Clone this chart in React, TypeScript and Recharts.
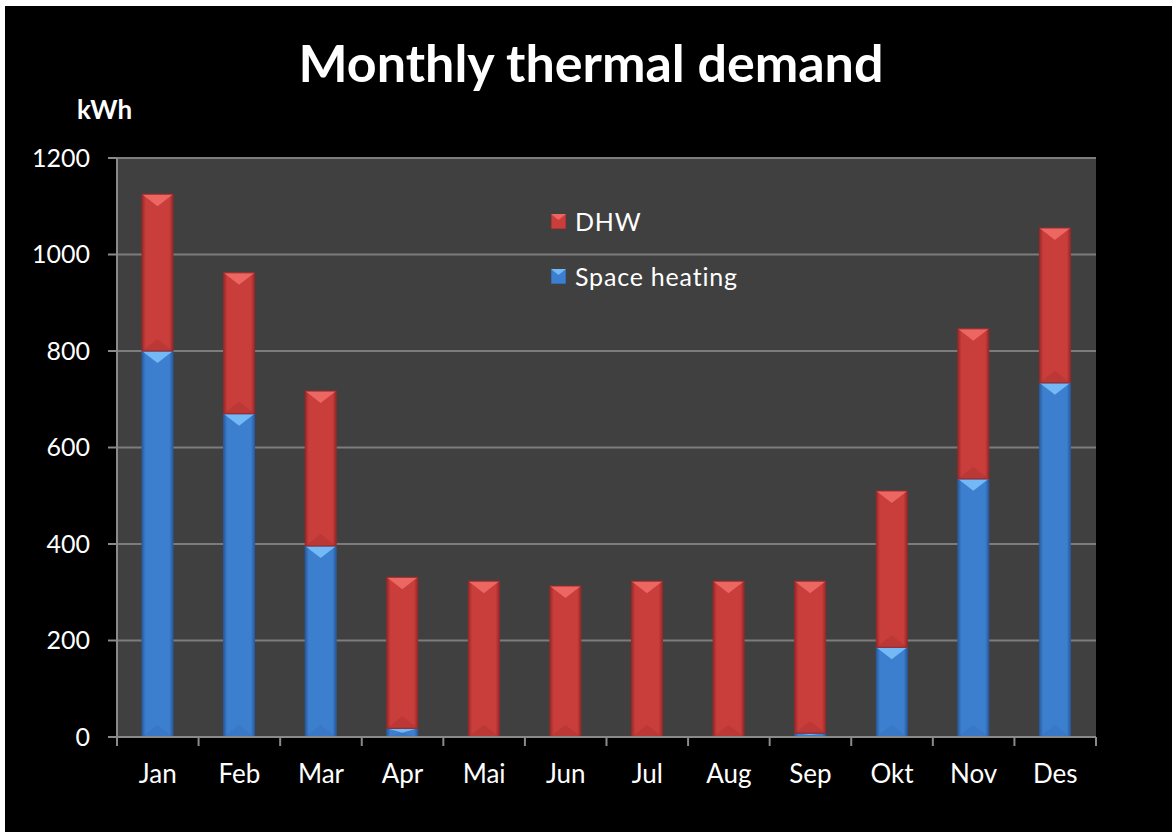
import React from "react";
import { BarChart, Bar, XAxis, YAxis, CartesianGrid } from "recharts";

// values (kWh)
const months = ["Jan", "Feb", "Mar", "Apr", "Mai", "Jun", "Jul", "Aug", "Sep", "Okt", "Nov", "Des"];
const spaceHeating = [800, 670, 396, 18, 0, 0, 0, 0, 8, 186, 535, 734];
const dhw = [325, 292, 321, 313, 323, 313, 323, 323, 315, 324, 311, 321];
const yTicks = [0, 200, 400, 600, 800, 1000, 1200];

const chartData = months.map((month, i) => ({
  month,
  spaceHeating: spaceHeating[i],
  dhw: dhw[i],
}));

const FONT = "Lato, 'Open Sans', sans-serif";
const AXIS = "#8a8a8a";

const palette: Record<string, { body: string; edge: string; light: string; dark: string }> = {
  red: { body: "#c93d3b", edge: "#98292a", light: "#ec6662", dark: "#a83130" },
  blue: { body: "#3c7fcf", edge: "#2a5c9e", light: "#74b9f6", dark: "#336fb8" },
};

function BevelBar(props: any) {
  const { x, y, width, height, tone } = props;
  if (!height || height <= 0) return null;
  const c = palette[tone];
  const bevel = Math.min(12, height / 2);
  return (
    <g>
      <rect x={x} y={y} width={width} height={height} fill={`url(#grad-${tone})`} />
      <polygon
        points={`${x},${y} ${x + width},${y} ${x + width / 2},${y + bevel}`}
        fill={c.light}
      />
      <polygon
        points={`${x},${y + height} ${x + width},${y + height} ${x + width / 2},${y + height - bevel}`}
        fill={c.dark}
        opacity={0.4}
      />
      <rect x={x} y={y} width={width} height={height} fill="none" stroke={c.edge} strokeWidth={1} />
    </g>
  );
}

function XTick(props: any) {
  const { x, y, payload, index } = props;
  const half = payload.offset || 0;
  const lineTop = y - 26;
  const last = index === months.length - 1;
  return (
    <g>
      <line x1={x - half} y1={lineTop} x2={x - half} y2={lineTop + 9} stroke={AXIS} strokeWidth={2} />
      {last && (
        <line x1={x + half} y1={lineTop} x2={x + half} y2={lineTop + 9} stroke={AXIS} strokeWidth={2} />
      )}
      <text x={x} y={y} dy="0.75em" textAnchor="middle" fill="#ffffff" fontSize={26} fontFamily={FONT}>
        {payload.value}
      </text>
    </g>
  );
}

function LegendBox() {
  const items = [
    { label: "DHW", tone: "red" },
    { label: "Space heating", tone: "blue" },
  ];
  return (
    <div style={{ position: "absolute", left: 546, top: 201, fontFamily: FONT }}>
      {items.map((it) => {
        const c = palette[it.tone];
        return (
          <div
            key={it.label}
            style={{ display: "flex", alignItems: "center", height: 28, marginBottom: 27 }}
          >
            <svg width={15} height={15} style={{ marginRight: 9 }}>
              <rect x={0} y={0} width={15} height={15} fill={c.body} stroke={c.edge} />
              <polygon points="0,0 15,0 7.5,6" fill={c.light} />
            </svg>
            <span style={{ color: "#ffffff", fontSize: 25, letterSpacing: 0.8 }}>{it.label}</span>
          </div>
        );
      })}
    </div>
  );
}

export default function App() {
  return (
    <div style={{ position: "absolute", left: 0, top: 0, width: 1172, height: 832, background: "#ffffff" }}>
      <div style={{ position: "absolute", left: 5, top: 6, width: 1167, height: 826, background: "#000000" }}>
        <div
          style={{
            position: "absolute",
            left: 0,
            width: 1172,
            top: 30,
            textAlign: "center",
            color: "#ffffff",
            fontFamily: FONT,
            fontWeight: 700,
            fontSize: 52,
            lineHeight: 1,
          }}
        >
          Monthly thermal demand
        </div>
        <div
          style={{
            position: "absolute",
            left: 72,
            top: 90,
            color: "#ffffff",
            fontFamily: FONT,
            fontWeight: 700,
            fontSize: 26,
            lineHeight: 1,
          }}
        >
          kWh
        </div>
        <BarChart
          width={1167}
          height={826}
          data={chartData}
          margin={{ top: 152, right: 76, left: 0, bottom: 0 }}
        >
          <defs>
            {Object.keys(palette).map((k) => (
              <linearGradient key={k} id={`grad-${k}`} x1="0" y1="0" x2="1" y2="0">
                <stop offset="0%" stopColor={palette[k].edge} />
                <stop offset="12%" stopColor={palette[k].body} />
                <stop offset="88%" stopColor={palette[k].body} />
                <stop offset="100%" stopColor={palette[k].edge} />
              </linearGradient>
            ))}
          </defs>
          <CartesianGrid vertical={false} fill="#404040" stroke="#7c7c7c" strokeWidth={2} />
          <XAxis
            dataKey="month"
            height={95}
            axisLine={{ stroke: AXIS, strokeWidth: 2 }}
            tickLine={false}
            tickSize={9}
            tickMargin={17}
            interval={0}
            tick={<XTick />}
          />
          <YAxis
            width={112}
            domain={[0, 1200]}
            ticks={yTicks}
            axisLine={{ stroke: AXIS, strokeWidth: 2 }}
            tickLine={{ stroke: AXIS, strokeWidth: 2 }}
            tickSize={9}
            tickMargin={18}
            tick={{ fill: "#ffffff", fontSize: 25, fontFamily: FONT }}
          />
          <Bar
            dataKey="spaceHeating"
            name="Space heating"
            stackId="a"
            barSize={31}
            isAnimationActive={false}
            shape={(p: any) => <BevelBar {...p} tone="blue" />}
          />
          <Bar
            dataKey="dhw"
            name="DHW"
            stackId="a"
            barSize={31}
            isAnimationActive={false}
            shape={(p: any) => <BevelBar {...p} tone="red" />}
          />
        </BarChart>
        <LegendBox />
      </div>
    </div>
  );
}
